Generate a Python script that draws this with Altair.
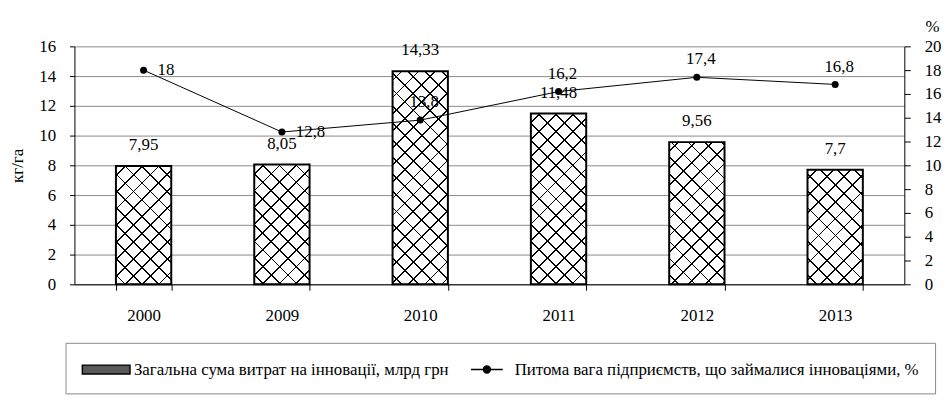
import altair as alt
import pandas as pd

# ---------------- data ----------------
years = ["2000", "2009", "2010", "2011", "2012", "2013"]
spending = [7.95, 8.05, 14.33, 11.48, 9.56, 7.7]          # млрд грн (left axis)
share = [18, 12.8, 13.8, 16.2, 17.4, 16.8]                # % (right axis)
series_names = [
    "Загальна сума витрат на інновації, млрд грн",
    "Питома вага підприємств, що займалися інноваціями, %",
]
left_ticks = [0, 2, 4, 6, 8, 10, 12, 14, 16]
right_ticks = [0, 2, 4, 6, 8, 10, 12, 14, 16, 18, 20]
right_label_years = ["2000", "2009"]   # point labels placed to the right of the marker

# ---------------- style ----------------
FONT = "'Liberation Serif', 'Times New Roman', serif"
W, H = 837, 240
LEFT_MAX, RIGHT_MAX = 16, 20
PAD_INNER, PAD_OUTER = 0.6, 0.3
BAND_W = W / len(years) * (1 - PAD_INNER)
PX = H / LEFT_MAX
PERIOD = 17.0      # hatch period along x+y (px)
LINE_T = 1.8       # hatch line thickness along x+y (px)

df = pd.DataFrame({"year": years, "spending": spending, "share": share})
df["spend_lbl"] = [f"{v:g}".replace(".", ",") for v in spending]
df["share_lbl"] = [f"{v:g}".replace(".", ",") for v in share]


def hatch(value, flip):
    """Diagonal stripe gradient for one bar (45 degree lines in screen space)."""
    h = value * PX
    w = BAND_W
    s = w + h
    k = s / (w * w + h * h)
    a, b = w * k, h * k
    bg = "rgba(0,0,0,0)" if flip else "white"
    stops = [alt.GradientStop(offset=0, color=bg)]
    d = LINE_T / s
    pos = PERIOD / 2
    while pos + LINE_T < s:
        o1 = round(pos / s, 5)
        o2 = round(o1 + d, 5)
        stops += [
            alt.GradientStop(offset=o1, color=bg),
            alt.GradientStop(offset=o1, color="black"),
            alt.GradientStop(offset=o2, color="black"),
            alt.GradientStop(offset=o2, color=bg),
        ]
        pos += PERIOD
    stops.append(alt.GradientStop(offset=1, color=bg))
    if flip:
        return alt.LinearGradient(gradient="linear", stops=stops, x1=0, y1=1, x2=a, y2=1 - b)
    return alt.LinearGradient(gradient="linear", stops=stops, x1=0, y1=0, x2=a, y2=b)


x_enc = alt.X(
    "year:N",
    sort=years,
    scale=alt.Scale(domain=years, paddingInner=PAD_INNER, paddingOuter=PAD_OUTER),
    axis=alt.Axis(
        title=None, labelAngle=0, labelFont=FONT, labelFontSize=17, labelColor="black",
        domainColor="black", tickColor="black", tickSize=6, tickBand="extent",
        labelPadding=18, grid=False,
    ),
)

y_left = alt.Y(
    "spending:Q",
    scale=alt.Scale(domain=[0, LEFT_MAX], nice=False),
    axis=alt.Axis(
        values=left_ticks, title="кг/га", titleFont=FONT, titleFontSize=17,
        titleFontWeight="normal", titleColor="black", titlePadding=12,
        labelFont=FONT, labelFontSize=17, labelColor="black", labelPadding=14,
        domainColor="black", tickColor="black", tickSize=5,
        grid=True, gridColor="#8a8a8a", gridWidth=1,
    ),
)

y_right = alt.Y(
    "share:Q",
    scale=alt.Scale(domain=[0, RIGHT_MAX], nice=False),
    axis=alt.Axis(
        orient="right", values=right_ticks, title="%", titleAngle=0,
        titleX=28, titleY=-20, titleAlign="center", titleBaseline="middle",
        titleFont=FONT, titleFontSize=17, titleFontWeight="normal", titleColor="black",
        labelFont=FONT, labelFontSize=17, labelColor="black", labelPadding=14,
        domainColor="black", tickColor="black", tickSize=6, grid=False,
    ),
)

# ---------------- bars (hatched) ----------------
bar_layers = []
for yr, v in zip(years, spending):
    base = alt.Chart(df).transform_filter(alt.datum.year == yr)
    bar_layers.append(base.mark_bar(fill=hatch(v, False), strokeWidth=0).encode(x=x_enc, y=y_left))
    bar_layers.append(
        base.mark_bar(fill=hatch(v, True), stroke="black", strokeWidth=2).encode(x=x_enc, y=y_left)
    )

bar_labels = alt.Chart(df).mark_text(
    font=FONT, fontSize=17, color="black", baseline="middle", align="center", dy=-21
).encode(x=x_enc, y=y_left, text="spend_lbl:N")

left = alt.layer(*bar_layers, bar_labels)

# ---------------- line ----------------
line = alt.Chart(df).mark_line(color="black", strokeWidth=1).encode(x=x_enc, y=y_right)
points = alt.Chart(df).mark_circle(color="black", size=50, opacity=1).encode(x=x_enc, y=y_right)
pl_right = alt.Chart(df).transform_filter(
    alt.FieldOneOfPredicate(field="year", oneOf=right_label_years)
).mark_text(font=FONT, fontSize=17, color="black", align="left", baseline="middle", dx=14).encode(
    x=x_enc, y=y_right, text="share_lbl:N"
)
pl_above = alt.Chart(df).transform_filter(
    ~alt.FieldOneOfPredicate(field="year", oneOf=right_label_years)
).mark_text(font=FONT, fontSize=17, color="black", align="center", baseline="middle", dx=4, dy=-18).encode(
    x=x_enc, y=y_right, text="share_lbl:N"
)

right = alt.layer(line, points, pl_right, pl_above)

# ---------------- legend ----------------
SWATCH = "M-1,-0.45H3.8V0.45H-1Z"
LINESYM = "M-0.2,0H3.0M1.05,0A0.35,0.35,0,1,1,1.75,0A0.35,0.35,0,1,1,1.05,0Z"
leg = alt.Legend(
    title=None, orient="none", legendX=-9, legendY=299, direction="horizontal",
    labelFont=FONT, labelFontSize=17, labelColor="black", labelLimit=0, labelOffset=31,
    symbolSize=400, symbolStrokeWidth=1.5, symbolOpacity=1,
    columnPadding=13, padding=16, strokeColor="#888888", fillColor="white",
)
legend_df = pd.DataFrame({"series": series_names})
legend_layer = alt.Chart(legend_df).mark_point(
    filled=True, strokeWidth=1.5, opacity=0
).encode(
    fill=alt.Fill("series:N", scale=alt.Scale(domain=series_names, range=["#5a5a5a", "black"]), legend=leg),
    stroke=alt.Stroke("series:N", scale=alt.Scale(domain=series_names, range=["black", "black"]), legend=leg),
    shape=alt.Shape("series:N", scale=alt.Scale(domain=series_names, range=[SWATCH, LINESYM]), legend=leg),
)

chart = (
    alt.layer(left, right, legend_layer)
    .resolve_scale(y="independent")
    .properties(
        width=W, height=H,
        autosize=alt.AutoSizeParams(type="none"),
        padding={"left": 67, "top": 37, "right": 39, "bottom": 115},
        background="white",
    )
    .configure_view(stroke=None)
)

chart.save("out.html", embed_options={"renderer": "svg", "actions": False})
